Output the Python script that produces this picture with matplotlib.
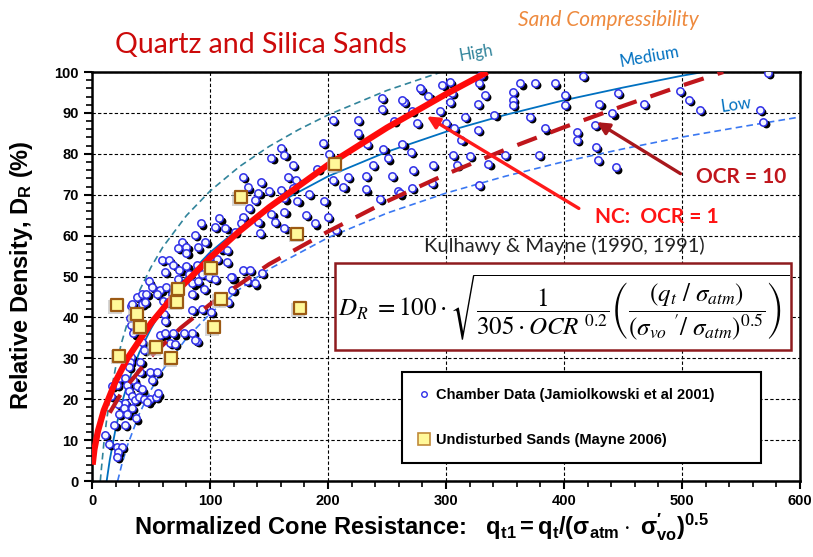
import matplotlib
matplotlib.use("Agg")
import matplotlib.pyplot as plt
from matplotlib.ticker import MultipleLocator
from matplotlib.transforms import offset_copy
from matplotlib.lines import Line2D
from matplotlib.patches import Rectangle

plt.rcParams["font.family"] = "Liberation Sans"
plt.rcParams["mathtext.fontset"] = "custom"
plt.rcParams["mathtext.rm"] = "Liberation Sans"
plt.rcParams["mathtext.it"] = "Liberation Sans:italic"
plt.rcParams["mathtext.bf"] = "Liberation Sans:bold"

# chamber test data (Jamiolkowski et al 2001)
chamber_q = [33, 42, 60, 61, 62, 32, 33, 35, 42, 44, 58, 62, 69, 66, 70, 78, 85, 89,
             33, 32, 31, 41, 49, 55, 41, 51, 23, 28, 21, 17, 30, 35, 38, 42, 16, 31,
             34, 36, 40, 44, 49, 54, 56, 47, 28, 22, 27, 34, 23, 30, 37, 19, 28, 11,
             14, 21, 25, 22, 21,
             64, 87, 85, 93, 101, 115, 119, 119, 128, 134, 144, 131, 138,
             92, 108, 104, 113, 121, 87, 96, 76, 80, 73, 90, 80, 100, 109, 114,
             59, 65, 69, 62, 74, 80, 89, 106, 114, 82, 93, 99, 104, 118, 73, 48,
             51, 58, 63, 85, 90, 38, 42, 46, 55, 68, 85, 95, 34, 45,
             246, 246, 256, 225, 204, 225, 233, 196, 201, 160, 163, 152, 170, 191,
             247, 251, 238, 254, 232, 217, 204, 213, 166, 173, 128, 132, 143, 150,
             141, 160, 170, 184, 174, 163, 197, 232, 244, 259, 138, 133, 128, 126,
             152, 155, 141, 163, 163, 181, 189, 200, 207, 142,
             330, 303, 297, 328, 279, 305, 285, 333, 303, 327, 264, 295, 271, 363,
             375, 392, 416, 357, 357, 357, 401, 401, 341, 371, 316, 275, 300, 307,
             327, 384, 411, 411, 426, 313, 263, 270, 427, 306, 320, 350, 379, 309,
             336, 272, 289, 288, 271, 328, 278, 263, 261,
             573, 446, 498, 506, 515, 430, 441, 468, 566, 569, 429, 444]
chamber_dr = [42.8, 43.4, 44.0, 40.8, 39.2, 39.8, 38.2, 36.1, 34.0, 32.0, 35.7, 36.1, 36.1,
              33.8, 33.6, 36.1, 36.3, 34.2, 30.4, 29.2, 28.0, 29.2, 26.7, 26.7, 26.7, 24.7,
              25.1, 25.1, 23.5, 23.2, 23.5, 24.7, 23.2, 22.4, 20.9, 22.0, 20.9, 19.9, 20.5,
              20.1, 20.1, 20.5, 21.4, 19.3, 19.1, 18.8, 17.8, 17.8, 16.5, 16.5, 15.3, 13.7,
              13.7, 11.2, 9.0, 8.4, 8.4, 7.2, 5.9,
              43.8, 34.6, 41.8, 42.0, 41.4, 43.8, 46.7, 49.8, 51.6, 51.6, 50.9, 49.0, 48.3,
              63.0, 64.2, 62.2, 61.8, 61.0, 60.2, 58.5, 58.5, 57.3, 57.0, 57.1, 55.8, 54.8,
              56.9, 56.5,
              54.0, 54.0, 52.8, 51.1, 51.7, 52.6, 52.8, 54.4, 53.6, 50.6, 50.6, 50.0, 49.5,
              49.8, 49.3, 48.8, 47.5, 46.7, 47.5, 48.3, 48.8, 45.0, 45.8, 45.8, 45.8, 45.8,
              45.8, 46.9, 43.4, 43.8,
              93.7, 90.9, 88.1, 88.3, 88.3, 85.0, 82.4, 82.6, 80.0, 81.5, 79.7, 79.1, 77.3,
              76.3, 81.3, 78.9, 77.3, 74.6, 74.6, 74.4, 73.6, 72.0, 74.4, 73.6, 74.3, 71.8,
              73.2, 71.0, 70.5, 71.1, 71.6, 70.2, 68.5, 69.1, 68.5, 71.3, 68.9, 71.0, 68.7,
              66.7, 64.6, 63.2, 65.3, 63.4, 63.4, 65.8, 61.8, 65.0, 63.0, 64.6, 61.4, 60.7,
              99.3, 97.6, 96.8, 97.2, 95.8, 94.8, 94.1, 94.4, 92.7, 92.2, 92.7, 90.5, 90.5,
              97.2, 97.4, 97.2, 99.0, 95.2, 93.2, 91.9, 94.4, 91.9, 89.5, 89.1, 89.1, 87.5,
              87.6, 86.2, 85.8, 86.2, 85.4, 83.5, 87.0, 83.5, 82.4, 80.5, 81.6, 79.7, 79.5,
              79.7, 79.7, 77.3, 77.5, 76.0, 77.3, 72.8, 71.6, 72.4, 96.0, 93.2, 70.3,
              99.7, 94.8, 95.4, 93.2, 90.7, 92.3, 89.9, 92.2, 90.7, 87.8, 78.6, 76.7]

# undisturbed sand samples (Mayne 2006)
mayne_q = [21, 38, 41, 73, 72, 23, 54, 67, 101, 109, 103, 176, 126, 174, 206]
mayne_dr = [43.0, 40.8, 37.7, 46.9, 43.8, 30.6, 32.7, 30.0, 52.2, 44.5, 37.6, 42.2, 69.4, 60.4, 77.5]

# Kulhawy & Mayne trends
nc_q = [0.5, 2, 5, 10, 20, 30, 50, 75, 100, 125, 150, 200, 250, 300, 335]
nc_dr = [4, 7.7, 12.2, 17.3, 24.4, 30.0, 38.6, 47.3, 54.6, 61.1, 66.9, 77.3, 86.4, 94.6, 100]
ocr10_q = [15, 25, 50, 75, 100, 150, 200, 250, 300, 350, 400, 450, 500, 535]
ocr10_dr = [16.7, 21.6, 30.5, 37.4, 43.2, 53.0, 61.0, 68.4, 75.0, 81.0, 86.5, 91.7, 96.7, 100]

# sand compressibility trends
high_q = [7, 8, 10, 12, 15, 20, 25, 30, 40, 50, 60, 80, 100, 125, 150, 175, 200, 250, 296]
high_dr = [0, 3.2, 9.2, 14.1, 20.1, 27.8, 33.8, 38.7, 46.4, 52.3, 57.2, 64.9, 70.9, 76.9,
           81.8, 85.9, 89.5, 95.5, 100]
med_q = [12.4, 15, 20, 25, 30, 40, 50, 60, 80, 100, 125, 150, 200, 250, 300, 350, 400, 450, 500, 518]
med_dr = [0, 5.1, 12.8, 18.8, 23.7, 31.4, 37.3, 42.2, 49.9, 55.9, 61.9, 66.8, 74.5, 80.5,
          85.4, 89.5, 93.1, 96.2, 99.1, 100]
low_q = [21.7, 25, 30, 40, 50, 60, 80, 100, 125, 150, 200, 250, 300, 350, 400, 450, 500, 550, 600]
low_dr = [0, 3.8, 8.7, 16.4, 22.3, 27.2, 34.9, 40.9, 46.9, 51.8, 59.5, 65.5, 70.4, 74.5,
          78.1, 81.2, 84.1, 86.6, 89.0]

fig = plt.figure(figsize=(8.13, 5.57), dpi=100)
ax = fig.add_axes([0.1132, 0.1364, 0.8708, 0.7343])
ax.set_xlim(0, 600)
ax.set_ylim(0, 100)

ax.xaxis.set_major_locator(MultipleLocator(100))
ax.xaxis.set_minor_locator(MultipleLocator(20))
ax.yaxis.set_major_locator(MultipleLocator(10))
ax.yaxis.set_minor_locator(MultipleLocator(2))
ax.tick_params(which="major", direction="out", length=6, width=1.5, labelsize=10.5)
ax.tick_params(which="minor", direction="out", length=4, width=1.2)
for lab in ax.get_xticklabels() + ax.get_yticklabels():
    lab.set_fontweight("bold")
for sp in ax.spines.values():
    sp.set_linewidth(1.8)
ax.grid(True, which="major", color="black", linestyle=(0, (3, 2)), linewidth=0.8)
ax.set_axisbelow(True)

# compressibility curves
ax.plot(high_q, high_dr, color="#31849B", lw=1.2, ls=(0, (4, 2.5)), zorder=2)
ax.plot(med_q, med_dr, color="#0070C0", lw=1.3, zorder=2)
ax.plot(low_q, low_dr, color="#3A78F2", lw=1.2, ls=(0, (4, 2.5)), zorder=2)

# chamber points with drop shadow
shadow = offset_copy(ax.transData, fig=fig, x=2.2, y=-2.2, units="dots")
ax.scatter(chamber_q, chamber_dr, s=32, color="black", transform=shadow, zorder=3, lw=0)
ax.scatter(chamber_q, chamber_dr, s=28, facecolor="#F4F6FF", edgecolor="#2F2FE8",
           lw=1.1, zorder=4)

# trend lines
ax.plot(nc_q, nc_dr, color="#FF0A0A", lw=4.5, solid_capstyle="butt", zorder=5)
ax.plot(ocr10_q, ocr10_dr, color="#C0161C", lw=3.0, ls=(0, (5, 3.5)), zorder=5)

# undisturbed samples
sq_shadow = offset_copy(ax.transData, fig=fig, x=-1.5, y=-1.5, units="dots")
ax.scatter(mayne_q, mayne_dr, s=95, marker="s", color="#BBBBBB", alpha=0.6,
           transform=sq_shadow, zorder=6, lw=0)
ax.scatter(mayne_q, mayne_dr, s=80, marker="s", facecolor="#FFF899", edgecolor="#9C5A14",
           lw=1.6, zorder=7)

# annotations
ax.annotate("", xy=(281.8, 89.5), xytext=(414.6, 66.3),
            arrowprops=dict(arrowstyle="-|>", color="#FF1A1A", lw=2.4, mutation_scale=18),
            zorder=8)
ax.annotate("", xy=(425.8, 88.1), xytext=(500.7, 74.8),
            arrowprops=dict(arrowstyle="-|>", color="#A8171C", lw=2.4, mutation_scale=18),
            zorder=8)
ax.text(550.4, 74.3, "OCR = 10", color="#C0161C", fontsize=15, fontweight="bold",
        family="Lato", ha="center", va="center", zorder=9)
ax.text(478.4, 64.5, "NC:  OCR = 1", color="#FF1414", fontsize=15, fontweight="bold",
        family="Lato", ha="center", va="center", zorder=9)
ax.text(400.4, 57.5, "Kulhawy & Mayne (1990, 1991)", color="#222222", fontsize=14.5,
        family="Lato", ha="center", va="center", zorder=9)

ax.text(325.8, 104.6, "High", color="#31849B", fontsize=12, family="Lato", rotation=10,
        ha="center", va="center", clip_on=False)
ax.text(472.5, 103.7, "Medium", color="#0070C0", fontsize=12, family="Lato", rotation=10,
        ha="center", va="center", clip_on=False)
ax.text(546, 91.9, "Low", color="#0070C0", fontsize=12, family="Lato", rotation=8,
        ha="center", va="center", zorder=9)

# formula box
ax.add_patch(Rectangle((205.5, 32.0), 387.3, 21.3, facecolor="white", edgecolor="#8E1B1E",
                       lw=1.8, zorder=9))
ax.text(399.5, 42.6,
        r"$D_R\ =100\cdot\sqrt{\dfrac{1}{305\cdot OCR^{\ 0.2}}"
        r"\left(\dfrac{(q_t\ /\ \sigma_{atm})}{(\sigma_{vo}\ '/\ \sigma_{atm})^{0.5}}\right)}$",
        math_fontfamily="stix", fontsize=18, ha="center", va="center", zorder=10)

# legend
handles = [Line2D([], [], marker="o", ls="none", ms=4, mfc="white", mec="#2F2FE8", mew=1),
           Line2D([], [], marker="s", ls="none", ms=8, mfc="#FFF899", mec="#C08A3A", mew=1.2)]
leg = ax.legend(handles, ["Chamber Data (Jamiolkowski et al 2001)",
                          "Undisturbed Sands (Mayne 2006)"],
                loc="lower left", bbox_to_anchor=(0.438, 0.044, 0.507, 0.23), mode="expand",
                borderaxespad=0, fancybox=False, edgecolor="black", framealpha=1,
                prop=dict(family="Liberation Sans", weight="bold", size=10.5),
                labelspacing=2.1, borderpad=1.1, handlelength=0.8, handletextpad=0.4)
leg.get_frame().set_linewidth(1.5)
leg.set_zorder(11)

fig.text(0.321, 0.919, "Quartz and Silica Sands", color="#CC0A0A", fontsize=20.5,
         family="Lato", ha="center", va="center")
fig.text(0.748, 0.964, "Sand Compressibility", color="#EE8A3E", fontsize=15,
         family="Lato", style="italic", ha="center", va="center")
fig.text(0.027, 0.506, r"Relative Density, $\mathbf{D_R}$ (%)", rotation=90, fontsize=17,
         fontweight="bold", ha="center", va="center")
fig.text(0.518, 0.054,
         r"Normalized Cone Resistance:   $\mathbf{q_{t1} = q_t/(\sigma_{atm}\cdot\ \sigma_{vo}')^{0.5}}$",
         fontsize=17, fontweight="bold", ha="center", va="center")

fig.savefig("out.png", dpi=100)
